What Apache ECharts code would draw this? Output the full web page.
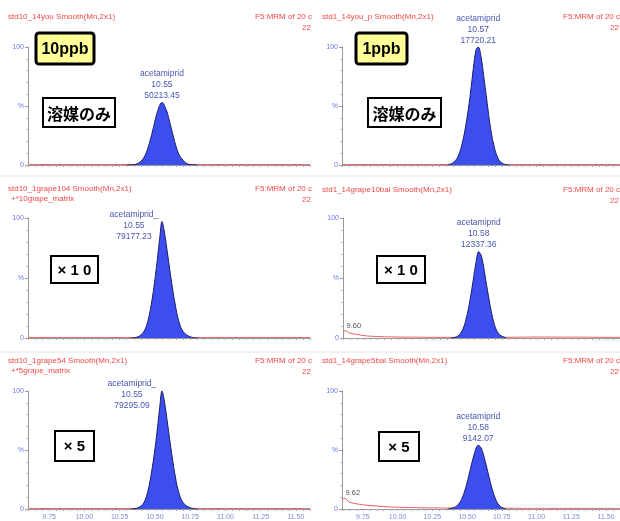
<!DOCTYPE html>
<html>
<head>
<meta charset="utf-8">
<script src="https://cdn.jsdelivr.net/npm/echarts@6/dist/echarts.min.js"></script>
<style>
  html, body { margin: 0; padding: 0; background: #fff; }
  #chart { width: 620px; height: 521px; }
</style>
</head>
<body>
<div id="chart"></div>
<script>
// retention time axis (min) and tick labels
const timeRange = [9.6, 11.6];
const xTickLabels = [9.75, 10.0, 10.25, 10.5, 10.75, 11.0, 11.25, 11.5];
const yTickLabels = [0, 50, 100];

// peak traces [time, %]
const peak1 = [[10.30,0],[10.36,0.5],[10.40,3],[10.43,8],[10.46,18],[10.49,32],[10.52,46],[10.55,53],[10.58,47],[10.61,34],[10.64,20],[10.67,9],[10.70,4],[10.73,1],[10.80,0]];
const peak2 = [[10.36,0],[10.40,2],[10.43,6],[10.46,16],[10.49,33],[10.52,57],[10.545,82],[10.565,98],[10.58,100],[10.60,92],[10.62,75],[10.645,52],[10.67,30],[10.70,13],[10.73,4],[10.76,1],[10.80,0]];
const peak3 = [[10.33,0],[10.38,1],[10.42,5],[10.45,14],[10.48,32],[10.51,58],[10.535,84],[10.55,97],[10.565,90],[10.59,70],[10.62,45],[10.65,24],[10.68,10],[10.71,4],[10.75,1],[10.80,0]];
const peak4 = [[10.38,0],[10.42,1],[10.45,4],[10.48,12],[10.51,27],[10.54,48],[10.56,63],[10.58,72],[10.60,68],[10.62,56],[10.65,35],[10.68,17],[10.71,6],[10.74,2],[10.78,0]];
const peak5 = [[10.33,0],[10.38,1],[10.42,5],[10.45,15],[10.48,34],[10.51,60],[10.535,87],[10.55,100],[10.565,93],[10.59,72],[10.62,46],[10.65,24],[10.68,10],[10.71,4],[10.75,1],[10.80,0]];
const peak6 = [[10.36,0],[10.40,1],[10.43,3],[10.46,8],[10.49,18],[10.52,32],[10.55,46],[10.58,54],[10.60,52],[10.62,45],[10.65,31],[10.68,17],[10.71,7],[10.74,2],[10.78,0]];

// baseline traces (red)
const traceFlat = [[9.6,0.4],[10.3,0.4],[10.8,0.4],[11.6,0.4]];
const trace4 = [[9.6,5],[9.62,6],[9.65,4],[9.7,3],[9.75,2],[9.8,1.5],[9.9,1],[10.0,0.8],[10.2,0.6],[10.4,0.5],[10.8,0.6],[11.0,0.8],[11.6,0.5]];
const trace6 = [[9.6,8],[9.62,9],[9.65,6],[9.7,4.5],[9.75,3.5],[9.8,3],[9.9,2],[10.0,1.5],[10.2,1],[10.4,0.8],[10.8,0.6],[11.6,0.5]];

// peak annotations
const peakName = 'acetamiprid';
const peakRT = ['10.55', '10.57', '10.55', '10.58', '10.55', '10.58'];
const peakArea = ['50213.45', '17720.21', '79177.23', '12337.36', '79295.09', '9142.07'];
const sideRT = [null, null, null, '9.60', null, '9.62'];

const headers = [
  ['std10_14you Smooth(Mn,2x1)', ''],
  ['std1_14you_p Smooth(Mn,2x1)', ''],
  ['std10_1grape104 Smooth(Mn,2x1)', '+*10grape_matrix'],
  ['std1_14grape10bai Smooth(Mn,2x1)', ''],
  ['std10_1grape54 Smooth(Mn,2x1)', '+*5grape_matrix'],
  ['std1_14grape5bai Smooth(Mn,2x1)', '']
];

const peaks = [peak1, peak2, peak3, peak4, peak5, peak6];
const traces = [traceFlat, traceFlat, traceFlat, trace4, traceFlat, trace6];

// panel layout
const panels = [
  { left: 28, width: 282, top: 47, height: 118, col: 0, hy: 17 },
  { left: 342, width: 278, top: 47, height: 118, col: 1, hy: 17 },
  { left: 28, width: 282, top: 218, height: 120, col: 0, hy: 189 },
  { left: 343, width: 277, top: 218, height: 120, col: 1, hy: 190 },
  { left: 28, width: 282, top: 391, height: 118, col: 0, hy: 361 },
  { left: 342, width: 278, top: 391, height: 118, col: 1, hy: 361 }
];
const labelOffsets = [[0, 0], [0, 0], [-28, 22], [0, 0], [-30, 21], [0, 0]];

const xMinor = [];
for (let t = 9.6; t <= 11.601; t += 0.05) xMinor.push(+t.toFixed(2));

const chart = echarts.init(document.getElementById('chart'));

const grids = [], xAxes = [], yAxes = [], series = [];
panels.forEach((p, i) => {
  grids.push({ left: p.left, top: p.top, width: p.width, height: p.height });
  const bottomRow = i >= 4;
  xAxes.push({
    type: 'value', gridIndex: i, min: timeRange[0], max: timeRange[1],
    axisLine: { show: true, lineStyle: { color: '#999', width: 1 } },
    axisTick: { show: true, customValues: xMinor, length: 2, lineStyle: { color: '#aaa' } },
    axisLabel: {
      show: bottomRow, customValues: xTickLabels, color: '#7f8ad8', fontSize: 7,
      fontFamily: 'Liberation Sans', margin: 5,
      formatter: v => v.toFixed(2)
    },
    splitLine: { show: false }
  });
  yAxes.push({
    type: 'value', gridIndex: i, min: 0, max: 100, interval: 50,
    axisLine: { show: true, lineStyle: { color: '#999', width: 1 } },
    axisTick: { show: true, length: 3, lineStyle: { color: '#999' } },
    minorTick: { show: true, splitNumber: 5, length: 2, lineStyle: { color: '#bbb' } },
    axisLabel: {
      color: '#6a78f0', fontSize: 7, fontFamily: 'Liberation Sans', margin: 4,
      formatter: v => (v === 50 ? '%' : String(v))
    },
    splitLine: { show: false }
  });
  const trace = {
    type: 'line', xAxisIndex: i, yAxisIndex: i, data: traces[i], symbol: 'none',
    smooth: 0.3, lineStyle: { color: '#e8605a', width: 1 }, z: 2, silent: true
  };
  if (sideRT[i]) {
    trace.markPoint = {
      symbol: 'circle', symbolSize: 0,
      data: [{ coord: traces[i][1], value: sideRT[i] }],
      label: { show: true, position: 'top', distance: 1, color: '#555', fontSize: 7.5,
        fontFamily: 'Liberation Sans', offset: [8, 0], formatter: sideRT[i] }
    };
  }
  series.push(trace);
  series.push({
    type: 'line', xAxisIndex: i, yAxisIndex: i, data: peaks[i], symbol: 'none',
    smooth: 0.35, z: 3, silent: true,
    lineStyle: { color: '#1c2066', width: 1 },
    areaStyle: { color: '#3d4ef0', opacity: 1 },
    markPoint: {
      symbol: 'circle', symbolSize: 0,
      data: [{ type: 'max' }],
      label: {
        show: true, position: 'top', distance: 1, offset: labelOffsets[i],
        color: '#4a56b0', fontSize: 8.5, lineHeight: 11, fontFamily: 'Liberation Sans',
        formatter: (i === 2 || i === 4 ? peakName + '_' : peakName) + '\n' + peakRT[i] + '\n' + peakArea[i]
      }
    }
  });
});

// header texts, boxes, separators
const graphics = [];
const hFont = '8px "Liberation Sans"';
panels.forEach((p, i) => {
  const x0 = p.col === 0 ? 8 : 322;
  const xr = p.col === 0 ? 312 : 620;
  graphics.push({ type: 'text', left: x0, top: p.hy - 4, style: { text: headers[i][0], fill: '#f04848', font: hFont } });
  if (headers[i][1]) graphics.push({ type: 'text', left: x0 + 3, top: p.hy + 6, style: { text: headers[i][1], fill: '#f04848', font: hFont } });
  graphics.push({ type: 'text', x: xr, y: p.hy - 4, style: { text: 'F5:MRM of 20 c', fill: '#f04848', font: hFont, textAlign: 'right' } });
  graphics.push({ type: 'text', x: xr - 1, y: p.hy + 7, style: { text: '22', fill: '#f04848', font: hFont, textAlign: 'right' } });
});

function box(x, y, w, h, text, fill, lw, font, r) {
  graphics.push({
    type: 'rect', shape: { x: x, y: y, width: w, height: h, r: r || 0 },
    style: { fill: fill, stroke: '#000', lineWidth: lw }, z: 10
  });
  graphics.push({
    type: 'text', x: x + w / 2, y: y + h / 2 + 1, z: 11,
    style: { text: text, fill: '#000', font: font, textAlign: 'center', textVerticalAlign: 'middle' }
  });
}
const boldLatin = 'bold 16px "Liberation Sans Narrow", "Liberation Sans"';
const boldCJK = 'bold 16px "Noto Sans CJK JP"';
box(36, 33, 58, 31, '10ppb', '#ffff99', 3, boldLatin, 3);
box(356, 33, 51, 31, '1ppb', '#ffff99', 3, boldLatin, 3);
box(43, 98, 72, 29, '溶媒のみ', '#fff', 2, boldCJK);
box(368, 98, 73, 29, '溶媒のみ', '#fff', 2, boldCJK);
box(51, 256, 47, 27, '× 1 0', '#fff', 2, 'bold 15px "Liberation Sans"');
box(377, 256, 48, 27, '× 1 0', '#fff', 2, 'bold 15px "Liberation Sans"');
box(55, 431, 39, 30, '× 5', '#fff', 2, 'bold 15px "Liberation Sans"');
box(379, 432, 40, 29, '× 5', '#fff', 2, 'bold 15px "Liberation Sans"');
[176, 352].forEach(y => {
  graphics.push({ type: 'line', shape: { x1: 0, y1: y, x2: 620, y2: y }, style: { stroke: '#e4e4e4', lineWidth: 1 } });
});

chart.setOption({
  animation: false,
  backgroundColor: '#fff',
  grid: grids,
  xAxis: xAxes,
  yAxis: yAxes,
  series: series,
  graphic: graphics
});
</script>
</body>
</html>
